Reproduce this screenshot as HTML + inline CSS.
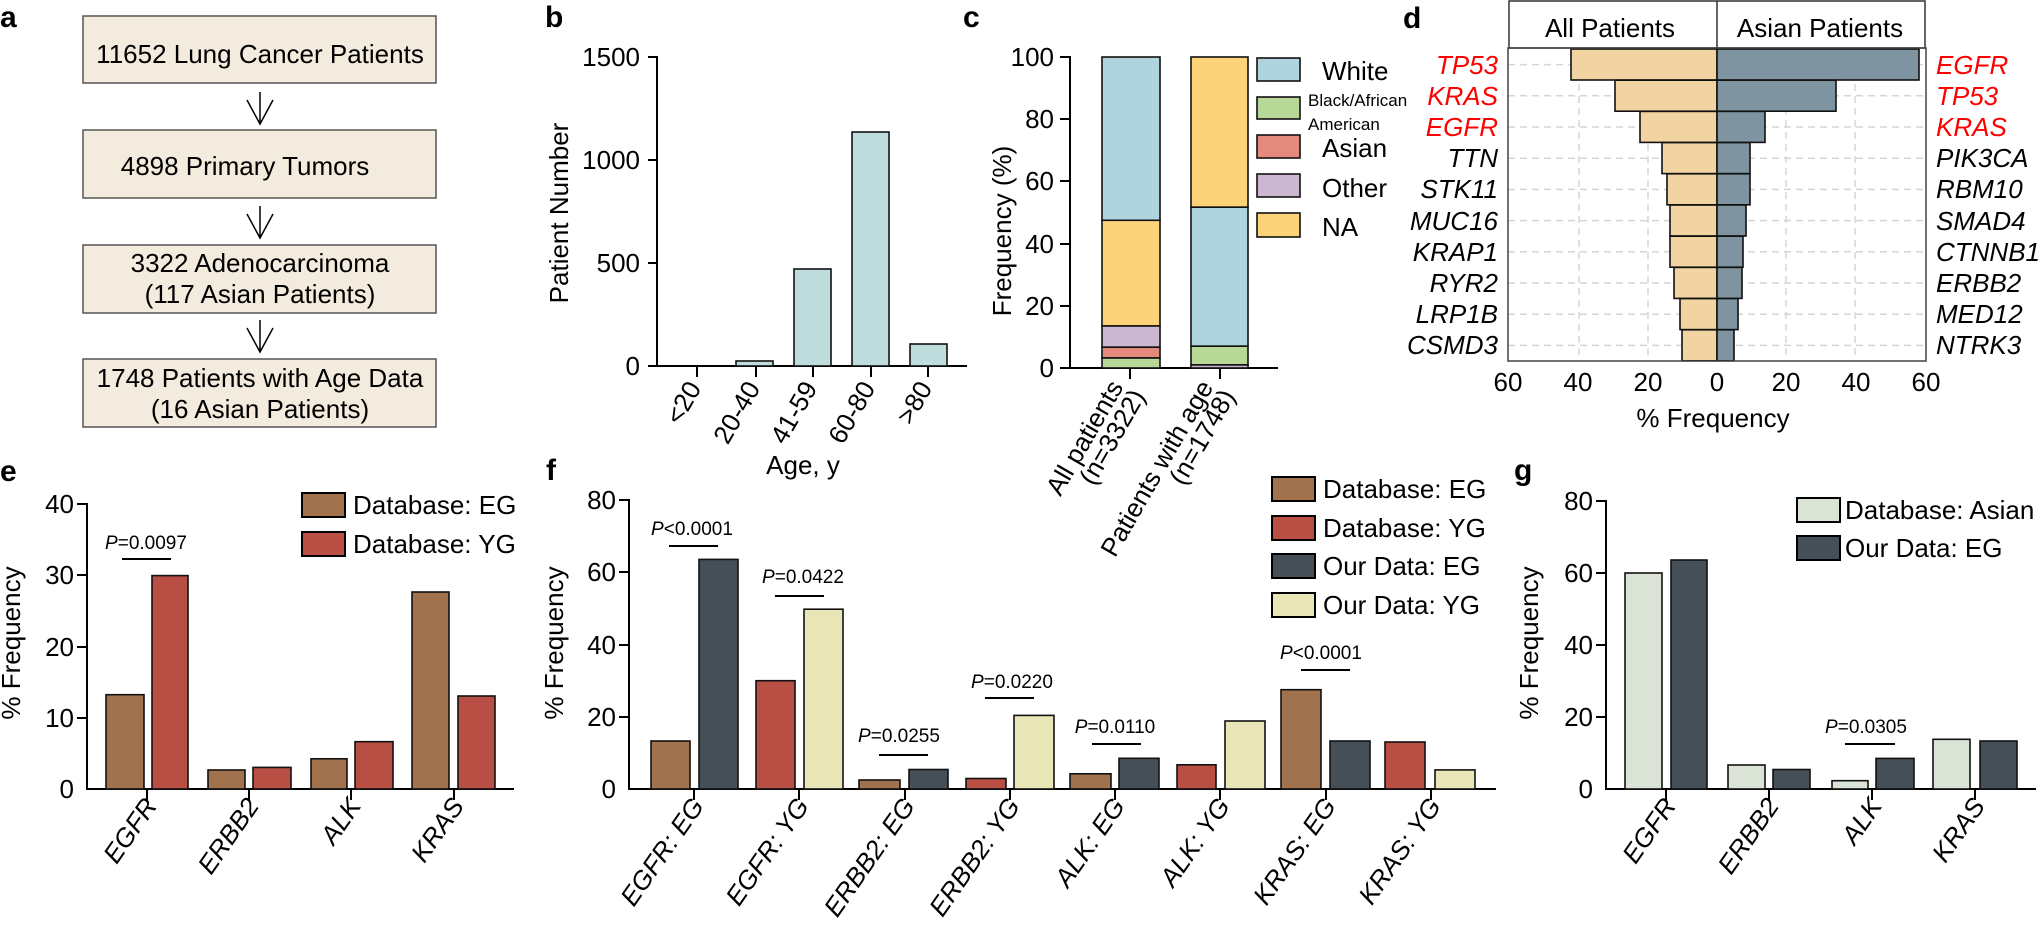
<!DOCTYPE html>
<html><head><meta charset="utf-8"><style>
html,body{margin:0;padding:0;background:#fff}
svg{display:block}
text{font-family:"Liberation Sans Narrow","Liberation Sans",Arial,sans-serif;fill:#000}
.w{font-family:"Liberation Sans",Arial,sans-serif}
.t{font-size:26px}
.lbl{font-family:"Liberation Sans",Arial,sans-serif;font-weight:bold;font-size:30px}
.it{font-style:italic}
.ax{stroke:#000;stroke-width:2;fill:none}
.b{stroke:#111;stroke-width:1.6}
.p{font-size:19px}
</style></head><body>
<svg width="2043" height="937" viewBox="0 0 2043 937" xmlns="http://www.w3.org/2000/svg">
<!-- panel a -->
<text class="lbl" x="0" y="27">a</text>
<g fill="#f3ebdd" stroke="#555" stroke-width="1.5">
<rect x="83" y="16" width="353" height="67"/>
<rect x="83" y="130" width="353" height="68"/>
<rect x="83" y="245" width="353" height="68"/>
<rect x="83" y="359" width="353" height="68"/>
</g>
<g stroke="#000" stroke-width="1.5" fill="none">
<path d="M260 92V124M247 100L260 124L273 100"/>
<path d="M260 206V238M247 214L260 238L273 214"/>
<path d="M260 320V352M247 328L260 352L273 328"/>
</g>
<g class="w" font-size="26" text-anchor="middle">
<text class="w" x="260" y="63">11652 Lung Cancer Patients</text>
<text class="w" x="245" y="175">4898 Primary Tumors</text>
<text class="w" x="260" y="272">3322 Adenocarcinoma</text>
<text class="w" x="260" y="303">(117 Asian Patients)</text>
<text class="w" x="260" y="387">1748 Patients with Age Data</text>
<text class="w" x="260" y="418">(16 Asian Patients)</text>
</g>

<!-- panel b -->
<text class="lbl" x="545" y="27">b</text>
<text class="t" transform="translate(568,213) rotate(-90)" text-anchor="middle">Patient Number</text>
<g class="t" text-anchor="end">
<text class="t" x="640" y="66">1500</text><text class="t" x="640" y="169">1000</text><text class="t" x="640" y="272">500</text><text class="t" x="640" y="375">0</text>
</g>
<path class="ax" d="M648 57H657V366H967M648 160H657M648 263H657M648 366H657M697 366V377M756 366V377M813 366V377M871 366V377M928 366V377"/>
<g fill="#bfdcdc" class="b">
<rect x="736" y="361" width="37" height="5"/>
<rect x="794" y="269" width="37" height="97"/>
<rect x="852" y="132" width="37" height="234"/>
<rect x="910" y="344" width="37" height="22"/>
</g>
<g class="t" text-anchor="end">
<text class="t" transform="translate(702,388) rotate(-60)">&lt;20</text>
<text class="t" transform="translate(761,388) rotate(-60)">20-40</text>
<text class="t" transform="translate(818,388) rotate(-60)">41-59</text>
<text class="t" transform="translate(876,388) rotate(-60)">60-80</text>
<text class="t" transform="translate(933,388) rotate(-60)">&gt;80</text>
</g>
<text class="t" x="803" y="474" text-anchor="middle">Age, y</text>

<!-- panel c -->
<text class="lbl" x="963" y="27">c</text>
<text class="t" transform="translate(1011,231) rotate(-90)" text-anchor="middle">Frequency (%)</text>
<g text-anchor="end">
<text class="t" x="1054" y="66">100</text><text class="t" x="1054" y="128">80</text><text class="t" x="1054" y="190">60</text><text class="t" x="1054" y="253">40</text><text class="t" x="1054" y="315">20</text><text class="t" x="1054" y="377">0</text>
</g>
<path class="ax" d="M1060 57H1070V368H1278M1060 119H1070M1060 181H1070M1060 244H1070M1060 306H1070M1060 368H1070M1130 368V379M1220 368V379"/>
<g class="b">
<rect x="1102" y="57" width="58" height="163.3" fill="#b0d4dd"/>
<rect x="1102" y="220.3" width="58" height="105.7" fill="#fdd37a"/>
<rect x="1102" y="326" width="58" height="21.2" fill="#cbb8d0"/>
<rect x="1102" y="347.2" width="58" height="10.8" fill="#e48a7c"/>
<rect x="1102" y="358" width="58" height="10" fill="#b8d898"/>
<rect x="1191" y="57" width="57" height="150.2" fill="#fdd37a"/>
<rect x="1191" y="207.2" width="57" height="139" fill="#b0d4dd"/>
<rect x="1191" y="346.2" width="57" height="18.7" fill="#b8d898"/>
<rect x="1191" y="364.9" width="57" height="3.1" fill="#cbb8d0"/>
</g>
<g class="b">
<rect x="1257" y="58" width="43" height="23" fill="#b0d4dd"/>
<rect x="1257" y="97" width="43" height="22" fill="#b8d898"/>
<rect x="1257" y="135" width="43" height="23" fill="#e48a7c"/>
<rect x="1257" y="174" width="43" height="23" fill="#cbb8d0"/>
<rect x="1257" y="213" width="43" height="24" fill="#fdd37a"/>
</g>
<text class="t" x="1322" y="80">White</text>
<text x="1308" y="106" font-size="17">Black/African</text>
<text x="1308" y="130" font-size="17">American</text>
<text class="t" x="1322" y="157">Asian</text>
<text class="t" x="1322" y="197">Other</text>
<text class="t" x="1322" y="236">NA</text>
<g class="t" text-anchor="end">
<text class="t" transform="translate(1124,387) rotate(-60)">All patients</text>
<text class="t" transform="translate(1146,396) rotate(-60)">(n=3322)</text>
<text class="t" transform="translate(1214,387) rotate(-60)">Patients with age</text>
<text class="t" transform="translate(1236,396) rotate(-60)">(n=1748)</text>
</g>

<!-- panel d -->
<text class="lbl" x="1403" y="28">d</text>
<rect x="1509" y="1" width="416" height="47" fill="#fff" stroke="#333" stroke-width="1.5"/>
<line x1="1717" y1="1" x2="1717" y2="48" stroke="#333" stroke-width="1.5"/>
<text class="t" x="1610" y="37" text-anchor="middle">All Patients</text>
<text class="t" x="1820" y="37" text-anchor="middle">Asian Patients</text>
<g stroke="#d5d5d5" stroke-width="1.5" stroke-dasharray="7,5">
<path d="M1579 48V361M1648 48V361M1786 48V361M1855 48V361"/>
<path d="M1508 64.6H1926M1508 95.8H1926M1508 127H1926M1508 158.2H1926M1508 189.4H1926M1508 220.6H1926M1508 251.8H1926M1508 283H1926M1508 314.2H1926M1508 345.4H1926"/>
</g>
<g fill="#f2d4a2" class="b">
<rect x="1571" y="49" width="146" height="31"/>
<rect x="1615" y="80.2" width="102" height="31"/>
<rect x="1640" y="111.4" width="77" height="31"/>
<rect x="1662" y="142.6" width="55" height="31"/>
<rect x="1667" y="173.8" width="50" height="31"/>
<rect x="1670" y="205" width="47" height="31"/>
<rect x="1670" y="236.2" width="47" height="31"/>
<rect x="1674" y="267.4" width="43" height="31"/>
<rect x="1680" y="298.6" width="37" height="31"/>
<rect x="1682" y="329.8" width="35" height="31"/>
</g>
<g fill="#7e95a1" class="b">
<rect x="1717" y="49" width="202" height="31"/>
<rect x="1717" y="80.2" width="119" height="31"/>
<rect x="1717" y="111.4" width="48" height="31"/>
<rect x="1717" y="142.6" width="33" height="31"/>
<rect x="1717" y="173.8" width="33" height="31"/>
<rect x="1717" y="205" width="29" height="31"/>
<rect x="1717" y="236.2" width="26" height="31"/>
<rect x="1717" y="267.4" width="25" height="31"/>
<rect x="1717" y="298.6" width="21" height="31"/>
<rect x="1717" y="329.8" width="17" height="31"/>
</g>
<rect x="1508" y="48" width="418" height="313" fill="none" stroke="#444" stroke-width="1.5"/>
<g class="t it" text-anchor="end">
<text class="t it" x="1498" y="74" style="fill:#f00">TP53</text>
<text class="t it" x="1498" y="105" style="fill:#f00">KRAS</text>
<text class="t it" x="1498" y="136" style="fill:#f00">EGFR</text>
<text class="t it" x="1498" y="167">TTN</text>
<text class="t it" x="1498" y="198">STK11</text>
<text class="t it" x="1498" y="230">MUC16</text>
<text class="t it" x="1498" y="261">KRAP1</text>
<text class="t it" x="1498" y="292">RYR2</text>
<text class="t it" x="1498" y="323">LRP1B</text>
<text class="t it" x="1498" y="354">CSMD3</text>
</g>
<g class="t it">
<text class="t it" x="1936" y="74" style="fill:#f00">EGFR</text>
<text class="t it" x="1936" y="105" style="fill:#f00">TP53</text>
<text class="t it" x="1936" y="136" style="fill:#f00">KRAS</text>
<text class="t it" x="1936" y="167">PIK3CA</text>
<text class="t it" x="1936" y="198">RBM10</text>
<text class="t it" x="1936" y="230">SMAD4</text>
<text class="t it" x="1936" y="261">CTNNB1</text>
<text class="t it" x="1936" y="292">ERBB2</text>
<text class="t it" x="1936" y="323">MED12</text>
<text class="t it" x="1936" y="354">NTRK3</text>
</g>
<g text-anchor="middle">
<text class="t" x="1508" y="391">60</text><text class="t" x="1578" y="391">40</text><text class="t" x="1648" y="391">20</text><text class="t" x="1717" y="391">0</text><text class="t" x="1786" y="391">20</text><text class="t" x="1856" y="391">40</text><text class="t" x="1926" y="391">60</text>
</g>
<text class="t" x="1713" y="427" text-anchor="middle">% Frequency</text>

<!-- panel e -->
<text class="lbl" x="0" y="481">e</text>
<text class="t" transform="translate(20,643) rotate(-90)" text-anchor="middle">% Frequency</text>
<g text-anchor="end">
<text class="t" x="74" y="513">40</text><text class="t" x="74" y="584">30</text><text class="t" x="74" y="656">20</text><text class="t" x="74" y="727">10</text><text class="t" x="74" y="798">0</text>
</g>
<path class="ax" d="M77 504H87V789H514M77 575H87M77 647H87M77 718H87M147 789V800M249 789V800M351 789V800M454 789V800"/>
<g class="b">
<rect x="106" y="694.7" width="38" height="94.3" fill="#a0724e"/>
<rect x="152" y="575.6" width="36" height="213.4" fill="#b94f44"/>
<rect x="208" y="770" width="37" height="19" fill="#a0724e"/>
<rect x="253" y="767.4" width="38" height="21.6" fill="#b94f44"/>
<rect x="311" y="758.8" width="36" height="30.2" fill="#a0724e"/>
<rect x="355" y="741.7" width="38" height="47.3" fill="#b94f44"/>
<rect x="412" y="592" width="37" height="197" fill="#a0724e"/>
<rect x="458" y="696" width="37" height="93" fill="#b94f44"/>
</g>
<line x1="122" y1="559" x2="171" y2="559" stroke="#000" stroke-width="2"/>
<text class="p" x="146" y="549" text-anchor="middle"><tspan class="it">P</tspan>=0.0097</text>
<rect x="302" y="493" width="43" height="24" fill="#a0724e" stroke="#000" stroke-width="2"/>
<rect x="302" y="532" width="43" height="24" fill="#b94f44" stroke="#000" stroke-width="2"/>
<text class="t" x="353" y="514">Database: EG</text>
<text class="t" x="353" y="553">Database: YG</text>
<g class="t it" text-anchor="end">
<text class="t it" transform="translate(158,806) rotate(-55)">EGFR</text>
<text class="t it" transform="translate(260,806) rotate(-55)">ERBB2</text>
<text class="t it" transform="translate(362,806) rotate(-55)">ALK</text>
<text class="t it" transform="translate(465,806) rotate(-55)">KRAS</text>
</g>

<!-- panel f -->
<text class="lbl" x="546" y="480">f</text>
<text class="t" transform="translate(563,643) rotate(-90)" text-anchor="middle">% Frequency</text>
<g text-anchor="end">
<text class="t" x="616" y="509">80</text><text class="t" x="616" y="581">60</text><text class="t" x="616" y="654">40</text><text class="t" x="616" y="726">20</text><text class="t" x="616" y="798">0</text>
</g>
<path class="ax" d="M619 500H629V789H1496M619 572H629M619 645H629M619 717H629M694 789V800M799 789V800M905 789V800M1010 789V800M1115 789V800M1220 789V800M1326 789V800M1431 789V800"/>
<g class="b">
<rect x="651" y="741" width="39" height="48" fill="#a0724e"/>
<rect x="699" y="559.4" width="39" height="229.6" fill="#454f57"/>
<rect x="756" y="680.7" width="39" height="108.3" fill="#b94f44"/>
<rect x="804" y="609.2" width="39" height="179.8" fill="#e8e6b7"/>
<rect x="859" y="780" width="41" height="9" fill="#a0724e"/>
<rect x="909" y="769.5" width="39" height="19.5" fill="#454f57"/>
<rect x="966" y="778.5" width="40" height="10.5" fill="#b94f44"/>
<rect x="1014" y="715.4" width="40" height="73.6" fill="#e8e6b7"/>
<rect x="1070" y="773.8" width="41" height="15.2" fill="#a0724e"/>
<rect x="1119" y="758.3" width="40" height="30.7" fill="#454f57"/>
<rect x="1177" y="764.8" width="39" height="24.2" fill="#b94f44"/>
<rect x="1225" y="721" width="40" height="68" fill="#e8e6b7"/>
<rect x="1281" y="689.7" width="40" height="99.3" fill="#a0724e"/>
<rect x="1330" y="741" width="40" height="48" fill="#454f57"/>
<rect x="1385" y="742" width="40" height="47" fill="#b94f44"/>
<rect x="1435" y="769.9" width="40" height="19.1" fill="#e8e6b7"/>
</g>
<g stroke="#000" stroke-width="2">
<line x1="669" y1="546" x2="718" y2="546"/>
<line x1="775" y1="596" x2="824" y2="596"/>
<line x1="879" y1="755" x2="928" y2="755"/>
<line x1="985" y1="698" x2="1034" y2="698"/>
<line x1="1092" y1="744" x2="1141" y2="744"/>
<line x1="1301" y1="670" x2="1350" y2="670"/>
</g>
<g class="p" text-anchor="middle">
<text class="p" x="692" y="535"><tspan class="it">P</tspan>&lt;0.0001</text>
<text class="p" x="803" y="583"><tspan class="it">P</tspan>=0.0422</text>
<text class="p" x="899" y="742"><tspan class="it">P</tspan>=0.0255</text>
<text class="p" x="1012" y="688"><tspan class="it">P</tspan>=0.0220</text>
<text class="p" x="1115" y="733"><tspan class="it">P</tspan>=0.0110</text>
<text class="p" x="1321" y="659"><tspan class="it">P</tspan>&lt;0.0001</text>
</g>
<g stroke="#000" stroke-width="2">
<rect x="1272" y="477" width="43" height="24" fill="#a0724e"/>
<rect x="1272" y="516" width="43" height="24" fill="#b94f44"/>
<rect x="1272" y="554" width="43" height="24" fill="#454f57"/>
<rect x="1272" y="593" width="43" height="24" fill="#e8e6b7"/>
</g>
<text class="t" x="1323" y="498">Database: EG</text>
<text class="t" x="1323" y="537">Database: YG</text>
<text class="t" x="1323" y="575">Our Data: EG</text>
<text class="t" x="1323" y="614">Our Data: YG</text>
<g class="t it" text-anchor="end">
<text class="t it" transform="translate(705,806) rotate(-55)">EGFR: EG</text>
<text class="t it" transform="translate(810,806) rotate(-55)">EGFR: YG</text>
<text class="t it" transform="translate(916,806) rotate(-55)">ERBB2: EG</text>
<text class="t it" transform="translate(1021,806) rotate(-55)">ERBB2: YG</text>
<text class="t it" transform="translate(1126,806) rotate(-55)">ALK: EG</text>
<text class="t it" transform="translate(1231,806) rotate(-55)">ALK: YG</text>
<text class="t it" transform="translate(1337,806) rotate(-55)">KRAS: EG</text>
<text class="t it" transform="translate(1442,806) rotate(-55)">KRAS: YG</text>
</g>

<!-- panel g -->
<text class="lbl" x="1514" y="480">g</text>
<text class="t" transform="translate(1538,643) rotate(-90)" text-anchor="middle">% Frequency</text>
<g text-anchor="end">
<text class="t" x="1593" y="510">80</text><text class="t" x="1593" y="582">60</text><text class="t" x="1593" y="654">40</text><text class="t" x="1593" y="726">20</text><text class="t" x="1593" y="798">0</text>
</g>
<path class="ax" d="M1596 501H1606V789H2036M1596 573H1606M1596 645H1606M1596 717H1606M1666 789V800M1769 789V800M1872 789V800M1975 789V800"/>
<g class="b">
<rect x="1625" y="573" width="37" height="216" fill="#dae3d6"/>
<rect x="1671" y="560" width="36" height="229" fill="#454f57"/>
<rect x="1728" y="765" width="37" height="24" fill="#dae3d6"/>
<rect x="1773" y="769.5" width="37" height="19.5" fill="#454f57"/>
<rect x="1832" y="780.7" width="36" height="8.3" fill="#dae3d6"/>
<rect x="1876" y="758.4" width="38" height="30.6" fill="#454f57"/>
<rect x="1933" y="739.3" width="37" height="49.7" fill="#dae3d6"/>
<rect x="1980" y="741" width="37" height="48" fill="#454f57"/>
</g>
<line x1="1845" y1="744" x2="1895" y2="744" stroke="#000" stroke-width="2"/>
<text class="p" x="1866" y="733" text-anchor="middle"><tspan class="it">P</tspan>=0.0305</text>
<rect x="1797" y="498" width="43" height="24" fill="#dae3d6" stroke="#000" stroke-width="2"/>
<rect x="1797" y="536" width="43" height="24" fill="#454f57" stroke="#000" stroke-width="2"/>
<text class="t" x="1845" y="519">Database: Asian</text>
<text class="t" x="1845" y="557">Our Data: EG</text>
<g class="t it" text-anchor="end">
<text class="t it" transform="translate(1677,806) rotate(-55)">EGFR</text>
<text class="t it" transform="translate(1780,806) rotate(-55)">ERBB2</text>
<text class="t it" transform="translate(1883,806) rotate(-55)">ALK</text>
<text class="t it" transform="translate(1986,806) rotate(-55)">KRAS</text>
</g>
</svg>
</body></html>
